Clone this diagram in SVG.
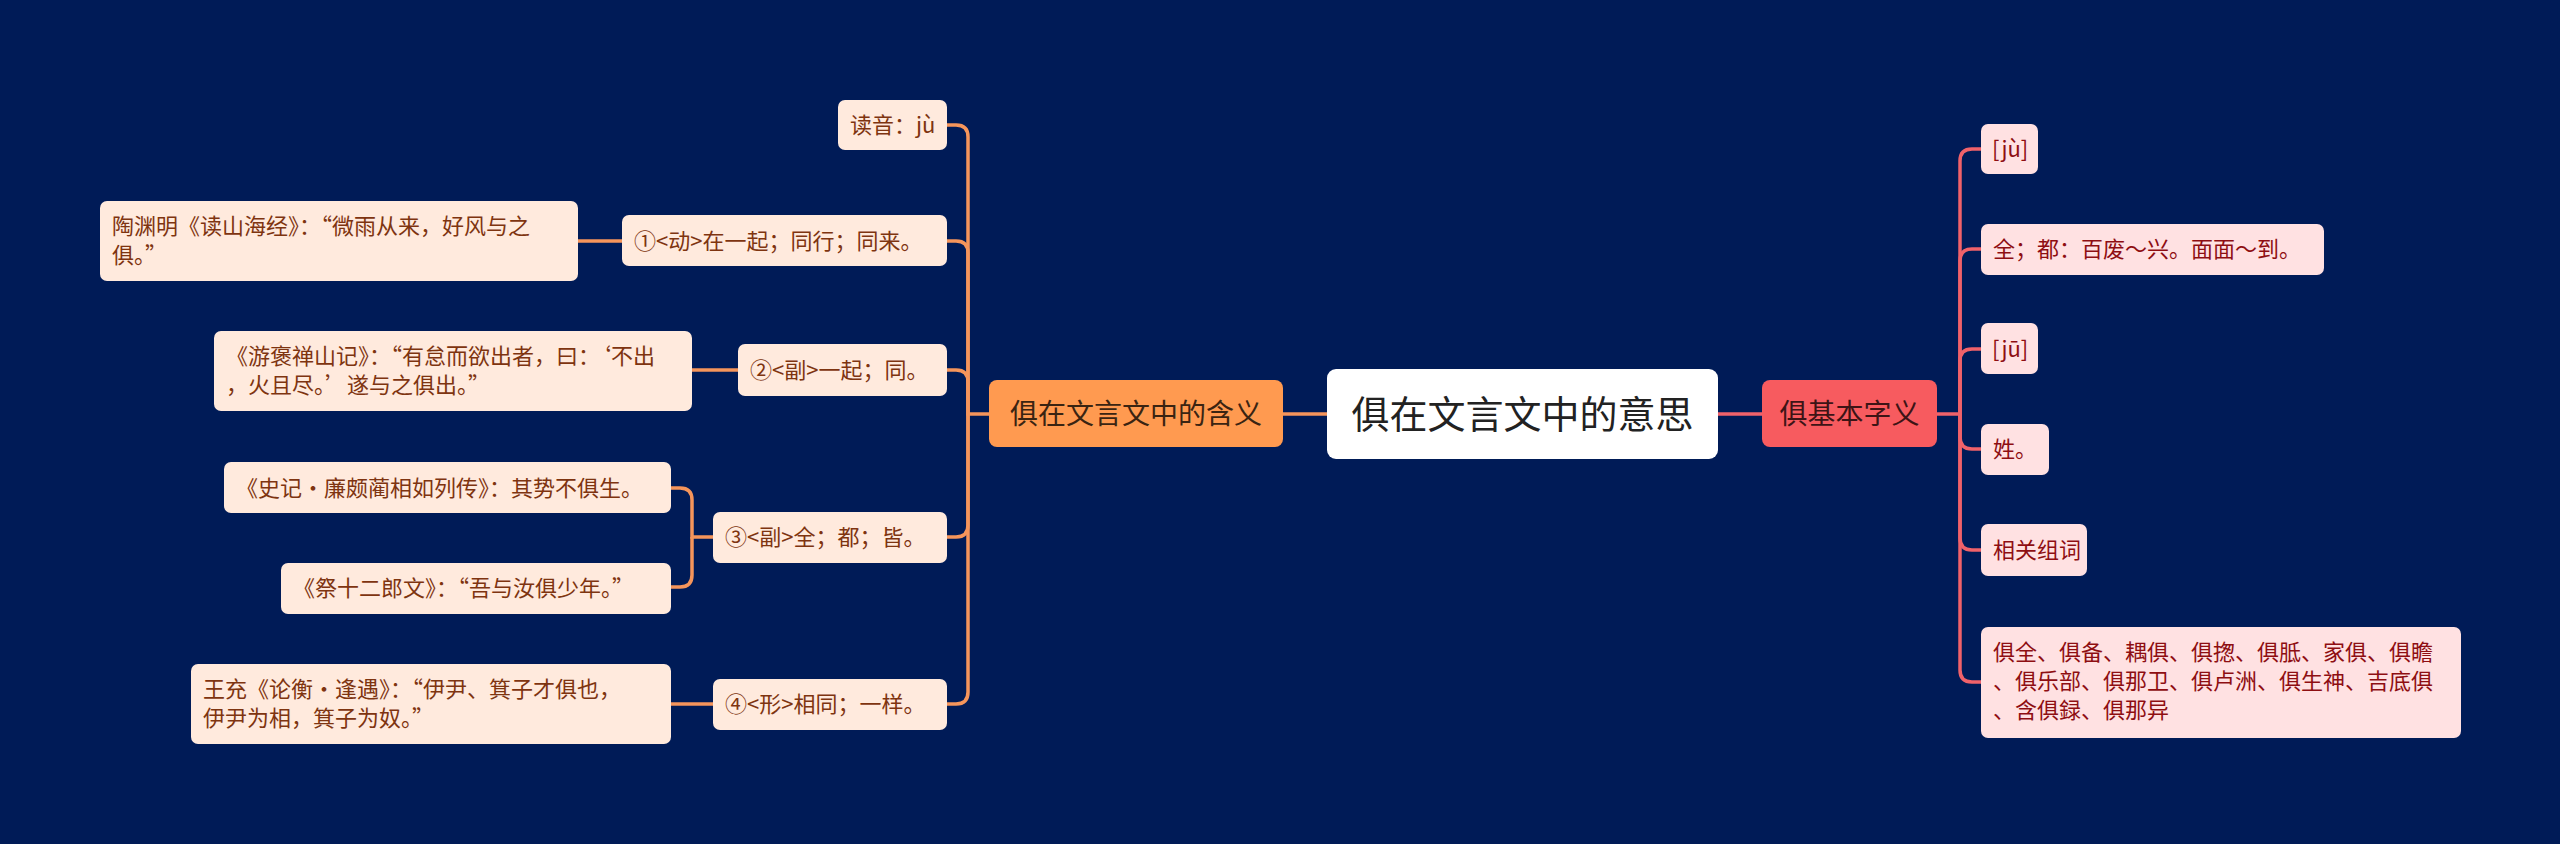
<svg xmlns="http://www.w3.org/2000/svg" width="2560" height="844" viewBox="0 0 2560 844">
<style>
text{font-family:"Noto Sans CJK SC","Noto Sans",sans-serif;}
.lc{fill:none;stroke:#F5955B;stroke-width:3.5;}
.rc{fill:none;stroke:#F0626A;stroke-width:3.5;}
.ll rect{fill:#FFEADD;}
.ll text{fill:#7E3410;font-size:22px;}
.rl rect{fill:#FFE1E2;}
.rl text{fill:#8E0E12;font-size:22px;}
</style>
<rect width="2560" height="844" fill="#001B57"/>
<g id="connectors">
<path class="lc" d="M1327,414 H1283"/>
<path class="rc" d="M1718,414 H1762"/>
<path class="lc" d="M989,414 H968 V137 Q968,125 956,125 H947"/>
<path class="lc" d="M968,414 V253 Q968,241 956,241 H947"/>
<path class="lc" d="M968,414 V382 Q968,370 956,370 H947"/>
<path class="lc" d="M968,414 V525 Q968,537 956,537 H947"/>
<path class="lc" d="M968,414 V692 Q968,704 956,704 H947"/>
<path class="lc" d="M622,241 H578"/>
<path class="lc" d="M738,370 H692"/>
<path class="lc" d="M713,537 H692 V500 Q692,488 680,488 H669"/>
<path class="lc" d="M692,537 V575 Q692,587 680,587 H669"/>
<path class="lc" d="M713,704 H669"/>
<path class="rc" d="M1937,414 H1960 V161 Q1960,149 1972,149 H1981"/>
<path class="rc" d="M1960,414 V261 Q1960,249 1972,249 H1981"/>
<path class="rc" d="M1960,414 V361 Q1960,349 1972,349 H1981"/>
<path class="rc" d="M1960,414 V437 Q1960,449 1972,449 H1981"/>
<path class="rc" d="M1960,414 V538 Q1960,550 1972,550 H1981"/>
<path class="rc" d="M1960,414 V670 Q1960,682 1972,682 H1981"/>
</g>
<g id="root">
<rect x="1327" y="369" width="391" height="90" rx="9" fill="#FFFFFF"/>
<text x="1522.5" y="428" font-size="38" text-anchor="middle" fill="#222222">俱在文言文中的意思</text>
</g>
<g id="n-left">
<rect x="989" y="380" width="294" height="67" rx="8" fill="#FF9A50"/>
<text x="1136" y="424" font-size="28" text-anchor="middle" fill="#3A2412">俱在文言文中的含义</text>
</g>
<g id="n-right">
<rect x="1762" y="380" width="175" height="67" rx="8" fill="#F75B5F"/>
<text x="1849.5" y="424" font-size="28" text-anchor="middle" fill="#3D1416">俱基本字义</text>
</g>
<g id="l1" class="ll">
<rect x="838" y="100" width="109" height="50" rx="7"/>
<text x="850" y="133">读音：jù</text>
</g>
<g id="l2" class="ll">
<rect x="622" y="215" width="325" height="51" rx="7"/>
<text x="634" y="249">①&lt;动&gt;在一起；同行；同来。</text>
</g>
<g id="l3" class="ll">
<rect x="738" y="344" width="209" height="52" rx="7"/>
<text x="750" y="378">②&lt;副&gt;一起；同。</text>
</g>
<g id="l4" class="ll">
<rect x="713" y="512" width="234" height="51" rx="7"/>
<text x="725" y="545">③&lt;副&gt;全；都；皆。</text>
</g>
<g id="l5" class="ll">
<rect x="713" y="679" width="234" height="51" rx="7"/>
<text x="725" y="712">④&lt;形&gt;相同；一样。</text>
</g>
<g id="l2a" class="ll">
<rect x="100" y="201" width="478" height="80" rx="7"/>
<text x="112" y="234">陶渊明《读山海经》：“微雨从来，好风与之</text>
<text x="112" y="263">俱。”</text>
</g>
<g id="l3a" class="ll">
<rect x="214" y="331" width="478" height="80" rx="7"/>
<text x="226" y="364">《游褒禅山记》：“有怠而欲出者，曰：‘不出</text>
<text x="226" y="393">，火且尽。’遂与之俱出。”</text>
</g>
<g id="l4a" class="ll">
<rect x="224" y="462" width="447" height="51" rx="7"/>
<text x="236" y="496">《史记·廉颇蔺相如列传》：其势不俱生。</text>
</g>
<g id="l4b" class="ll">
<rect x="281" y="563" width="390" height="51" rx="7"/>
<text x="293" y="596">《祭十二郎文》：“吾与汝俱少年。”</text>
</g>
<g id="l5a" class="ll">
<rect x="191" y="664" width="480" height="80" rx="7"/>
<text x="203" y="697">王充《论衡·逢遇》：“伊尹、箕子才俱也，</text>
<text x="203" y="726">伊尹为相，箕子为奴。”</text>
</g>
<g id="r1" class="rl">
<rect x="1981" y="124" width="57" height="50" rx="7"/>
<text x="1992" y="157">[jù]</text>
</g>
<g id="r2" class="rl">
<rect x="1981" y="224" width="343" height="51" rx="7"/>
<text x="1993" y="257">全；都：百废～兴。面面～到。</text>
</g>
<g id="r3" class="rl">
<rect x="1981" y="323" width="57" height="51" rx="7"/>
<text x="1992" y="357">[jū]</text>
</g>
<g id="r4" class="rl">
<rect x="1981" y="424" width="68" height="51" rx="7"/>
<text x="1993" y="457">姓。</text>
</g>
<g id="r5" class="rl">
<rect x="1981" y="524" width="106" height="52" rx="7"/>
<text x="1993" y="558">相关组词</text>
</g>
<g id="r6" class="rl">
<rect x="1981" y="627" width="480" height="111" rx="7"/>
<text x="1993" y="660">俱全、俱备、耦俱、俱揔、俱胝、家俱、俱瞻</text>
<text x="1993" y="689">、俱乐部、俱那卫、俱卢洲、俱生神、吉底俱</text>
<text x="1993" y="718">、含俱録、俱那异</text>
</g>
</svg>
